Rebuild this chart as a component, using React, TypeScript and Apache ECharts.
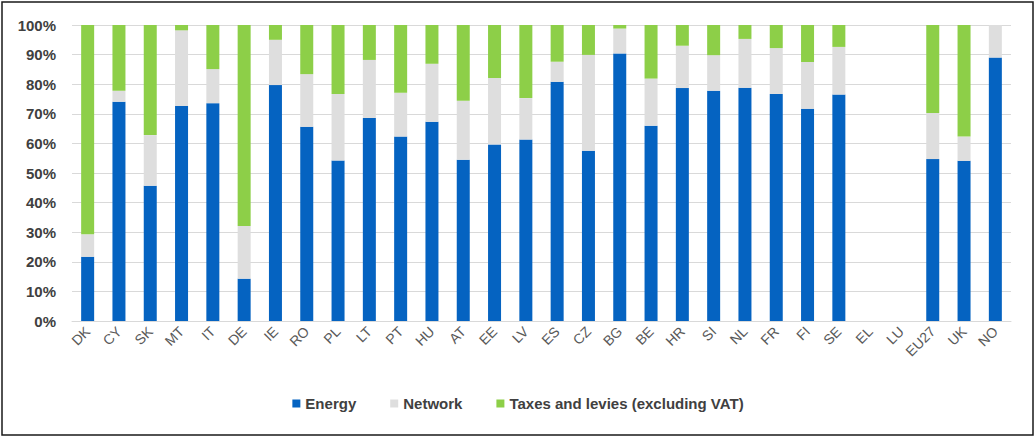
import React, { useEffect, useRef } from "react";
import * as echarts from "echarts";

const categories = ["DK","CY","SK","MT","IT","DE","IE","RO","PL","LT","PT","HU","AT","EE","LV","ES","CZ","BG","BE","HR","SI","NL","FR","FI","SE","EL","LU","EU27","UK","NO"];
const energy = [21.7,74.1,45.7,72.6,73.6,14.3,79.7,65.6,54.2,68.6,62.3,67.3,54.5,59.6,61.3,80.8,57.5,90.4,66.0,78.7,77.8,78.8,76.7,71.7,76.5,null,null,54.7,54.1,89.0];
const network = [7.6,3.7,17.1,25.6,11.5,17.8,15.3,17.8,22.5,19.6,14.8,19.6,19.9,22.5,14.0,6.8,32.4,8.4,15.9,14.3,12.0,16.5,15.5,15.8,16.1,null,null,15.6,8.2,11.0];
const taxes = [70.7,22.2,37.2,1.8,14.9,67.9,5.0,16.6,23.3,11.8,22.9,13.1,25.6,17.9,24.7,12.4,10.1,1.2,18.1,7.0,10.2,4.7,7.8,12.5,7.4,null,null,29.7,37.7,0];
const seriesNames = ["Energy","Network","Taxes and levies (excluding VAT)"];
const colors = ["#0563C1","#DEDEDE","#8DCF48"];

export default function App() {
  const ref = useRef<HTMLDivElement>(null);
  useEffect(() => {
    document.body.style.margin = "0";
    const chart = echarts.init(ref.current!, null, { renderer: "svg" });
    const data = [energy, network, taxes];
    chart.setOption({
      animation: false,
      backgroundColor: "#ffffff",
      textStyle: { fontFamily: "Liberation Sans" },
      graphic: [
        {
          type: "rect",
          shape: { x: 2, y: 2, width: 1031, height: 433 },
          style: { fill: "none", stroke: "#1a1a1a", lineWidth: 1.5 },
          silent: true,
        },
      ],
      grid: { left: 72, right: 25, top: 25, bottom: 117, containLabel: false },
      legend: {
        bottom: 22,
        left: "center",
        itemWidth: 8,
        itemHeight: 8,
        itemGap: 34,
        icon: "rect",
        textStyle: { fontSize: 15, color: "#404040", fontWeight: "bold" },
        data: seriesNames,
      },
      xAxis: {
        type: "category",
        data: categories,
        axisLine: { lineStyle: { color: "#D9D9D9", width: 1 } },
        axisTick: { show: false },
        axisLabel: { rotate: 45, fontSize: 14, color: "#595959", margin: 8, interval: 0 },
      },
      yAxis: {
        type: "value",
        min: 0,
        max: 100,
        interval: 10,
        axisLabel: { formatter: "{value}%", fontSize: 15, color: "#404040", fontWeight: "bold", margin: 16 },
        splitLine: { lineStyle: { color: "#D9D9D9", width: 1 } },
        axisLine: { show: false },
        axisTick: { show: false },
      },
      series: seriesNames.map((name, i) => ({
        name,
        type: "bar",
        stack: "total",
        barWidth: 13,
        itemStyle: { color: colors[i] },
        data: data[i],
      })),
    });
    return () => chart.dispose();
  }, []);
  return <div ref={ref} style={{ width: 1036, height: 438 }} />;
}
